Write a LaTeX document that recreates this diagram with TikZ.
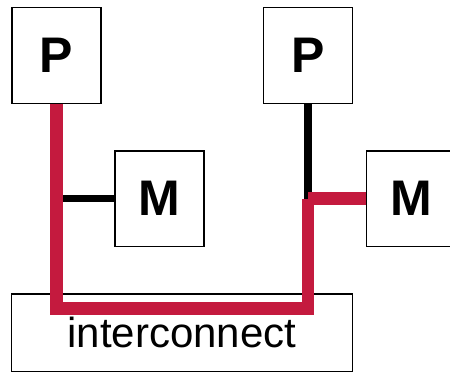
\documentclass[tikz,border=0pt]{standalone}
\usepackage{fontspec}
\setmainfont{Liberation Sans}
\definecolor{wirered}{RGB}{196,26,62}
\begin{document}
\begin{tikzpicture}[x=1pt,y=1pt,
  unitbox/.style={draw=black,line width=1.2pt,fill=white,inner sep=0pt,minimum width=89pt,minimum height=95.6pt,font=\fontsize{50}{50}\selectfont\bfseries},
  icbox/.style={draw=black,line width=1.2pt,fill=white,inner sep=0pt,minimum width=340.6pt,minimum height=77.7pt,font=\fontsize{42}{42}\selectfont},
  blackwire/.style={draw=black,line width=7.5pt},
  redwire/.style={draw=wirered,line width=12.6pt}]
\useasboundingbox (0,0) rectangle (450,373);
\clip (0,0) rectangle (450,373);
\node[unitbox] (P1) at (56.4,317.5) {P};
\node[unitbox] (P2) at (308,317.5) {P};
\node[unitbox] (M1) at (159.5,174.3) {M};
\node[unitbox] (M2) at (411,174.3) {M};
\node[icbox] (IC) at (182,40.1) {interconnect};
\coordinate (j1) at (P1.south |- M1.west);
\coordinate (j2) at (P2.south |- M2.west);
\coordinate (c1) at (P1.south |- 0,64.5);
\coordinate (c2) at (P2.south |- 0,64.5);
\draw[blackwire] (M1.west) -- (j1);
\draw[blackwire] (P2.south) -- (j2);
\draw[redwire] (P1.south) -- (c1) -- (c2) -- (j2);
\draw[redwire] (j2) -- (M2.west);
\end{tikzpicture}
\end{document}
